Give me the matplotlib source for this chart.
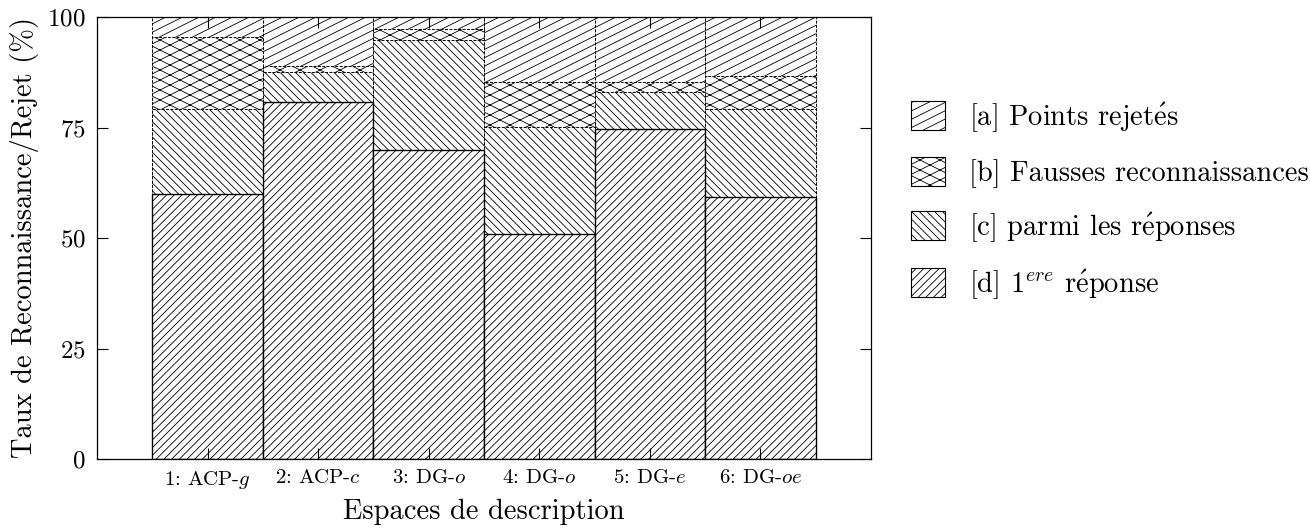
"""Taux de reconnaissance / rejet par espace de description (barres superposees)."""

import warnings

import numpy as np
import matplotlib
matplotlib.use("Agg")
import matplotlib.pyplot as plt
from matplotlib import hatch as mhatch
from matplotlib.path import Path
from matplotlib.patches import Patch

warnings.filterwarnings("ignore")

# ---- data (cumulative heights, %) ----
espaces = ["1: ACP-$g$", "2: ACP-$c$", "3: DG-$o$", "4: DG-$o$", "5: DG-$e$", "6: DG-$oe$"]
rejetes = [100, 100, 100, 100, 100, 100]                 # [a] top of stack
fausses = [95.5, 88.9, 97.3, 85.4, 85.4, 86.7]            # [b]
parmi = [79.2, 87.6, 94.8, 75.2, 83.1, 79.2]              # [c]
premiere = [60.0, 80.7, 69.9, 50.9, 74.6, 59.2]           # [d]
E = r"$\acute{\mathrm{e}}$"
labels = ["[a] Points rejet" + E + "s", "[b] Fausses reconnaissances",
          "[c] parmi les r" + E + "ponses", "[d] 1$^{ere}$ r" + E + "ponse"]


# ---- custom hatches with arbitrary slopes (gnuplot look) ----
class SlopeHatch(mhatch.HatchPatternBase):
    """Lines y = m x + c tiled in the unit hatch cell, one family per char."""
    families = {}  # char -> list of (slope, step)

    def __init__(self, hatch, density):
        self.lines = []
        for ch, fams in self.families.items():
            if ch in hatch:
                for m, step in fams:
                    lo, hi = (-m, 1.0) if m > 0 else (0.0, 1.0 - m)
                    for c in np.arange(lo, hi + 1e-9, step):
                        self.lines.append((m, c))
        self.num_vertices = 2 * len(self.lines)

    def set_vertices_and_codes(self, vertices, codes):
        for i, (m, c) in enumerate(self.lines):
            vertices[2 * i] = (0.0, c)
            vertices[2 * i + 1] = (1.0, m + c)
            codes[2 * i] = Path.MOVETO
            codes[2 * i + 1] = Path.LINETO


SlopeHatch.families = {
    "a": [(0.5, 0.5 / 6)],
    "b": [(0.5, 0.5 / 5), (-0.5, 0.5 / 5)],
    "c": [(-1.0, 1.0 / 13)],
    "d": [(1.0, 1.0 / 13)],
}
mhatch._hatch_types.append(SlopeHatch)
mhatch._validate_hatch_pattern = lambda h: None

plt.rcParams["font.family"] = ["cmr10", "DejaVu Serif"]
plt.rcParams["mathtext.fontset"] = "cm"
plt.rcParams["axes.formatter.use_mathtext"] = True
plt.rcParams["hatch.linewidth"] = 0.6

fig = plt.figure(figsize=(13.1, 5.29), dpi=100)
ax = fig.add_axes([97 / 1310, 70 / 529, 774 / 1310, 442 / 529])

x = np.arange(1, len(espaces) + 1)
dash = (0, (3, 1.5))
series = [(rejetes, "a", dash), (fausses, "b", dash), (parmi, "c", dash), (premiere, "d", "solid")]
for vals, h, ls in series:
    ax.bar(x, vals, width=1.0, facecolor="white", edgecolor="black",
           hatch=h, linestyle=ls, linewidth=0.7 if ls != "solid" else 1.0)

ax.set_xlim(0, 7)
ax.set_ylim(0, 100)
ax.set_yticks([0, 25, 50, 75, 100])
ax.set_xticks(x)
ax.set_xticklabels(espaces, fontsize=15)
ax.tick_params(axis="y", labelsize=18, direction="in", length=8, right=True, width=0.8, pad=8)
ax.tick_params(axis="x", direction="in", length=8, top=True, width=0.8, pad=7)
ax.set_ylabel("Taux de Reconnaissance/Rejet (%)", fontsize=20.5, labelpad=6)
ax.set_xlabel("Espaces de description", fontsize=20.5, labelpad=6)
for s in ax.spines.values():
    s.set_linewidth(0.9)

handles = [Patch(facecolor="white", edgecolor="black", hatch=h, linewidth=0.8)
           for _, h, _ in series]
fig.legend(handles, labels, loc="upper left", bbox_to_anchor=(911 / 1310, 1 - 100 / 529),
           frameon=False, fontsize=20.5, handlelength=1.19, handleheight=1.19,
           handletextpad=0.84, labelspacing=0.8, borderpad=0, borderaxespad=0)

fig.savefig("out.png", dpi=100)
